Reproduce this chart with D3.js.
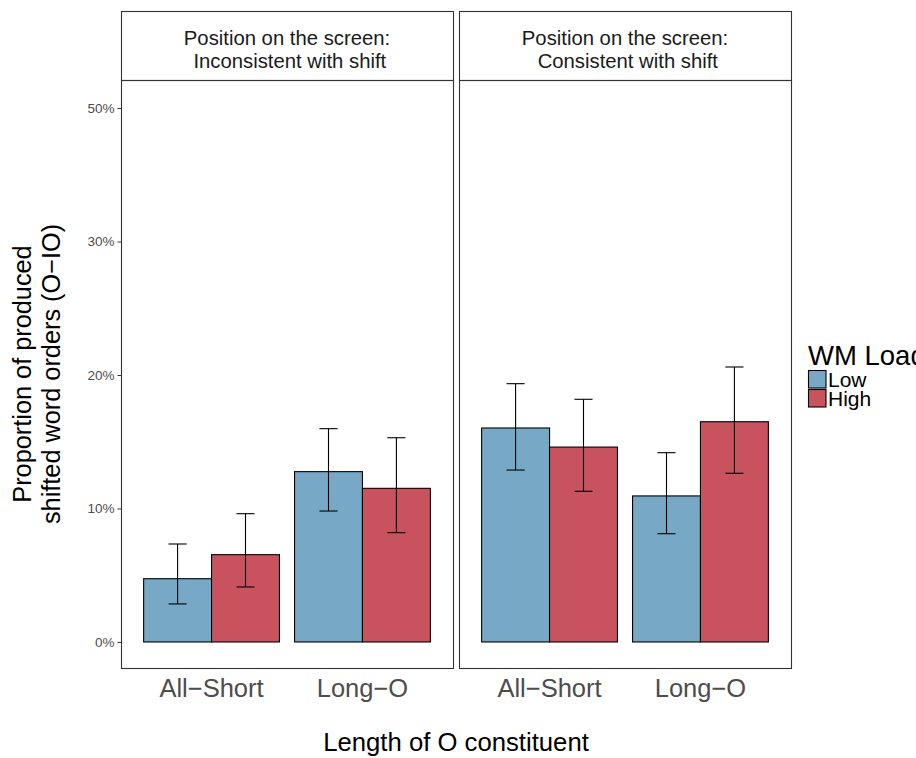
<!DOCTYPE html>
<html lang="en">
<head>
<meta charset="utf-8">
<title>Shifted word orders</title>
<script src="https://d3js.org/d3.v7.min.js"></script>
<style>
  body { margin: 0; background: #fff; }
  text { font-family: "Liberation Sans", Arial, Helvetica, sans-serif; }
</style>
</head>
<body>
<div id="chart"></div>
<script>
// data
var panels = ["Inconsistent with shift", "Consistent with shift"];
var lengths = ["All\u2212Short", "Long\u2212O"];
var loads = ["Low", "High"];
// mean proportion, per panel, per length: [Low, High]
var means = [
  [[0.0474, 0.0654], [0.1276, 0.1151]],
  [[0.1603, 0.1460], [0.1094, 0.1650]]
];
var lower = [
  [[0.0285, 0.0412], [0.0981, 0.0819]],
  [[0.1288, 0.1129], [0.0811, 0.1264]]
];
var upper = [
  [[0.0734, 0.0961], [0.1598, 0.1530]],
  [[0.1935, 0.1818], [0.1418, 0.2060]]
];
var tickVals = [0, 0.1, 0.2, 0.3, 0.4];
var tickLabels = ["0%", "10%", "20%", "30%", "50%"];
var colors = ["#77a8c6", "#c9525f"];

var W = 916, H = 758;
var panelX = [121, 459], panelW = 332;
var stripTop = 11, stripBot = 80, plotBot = 668;

var svg = d3.select("#chart").append("svg")
  .attr("width", W).attr("height", H);

var y = d3.scaleLinear().domain([-0.0195, 0.421]).range([plotBot, stripBot]);

// discrete x with ggplot-style 0.6 expansion
var x = d3.scaleLinear().domain([-0.6, 1.6]).range([0, panelW]);
var unit = x(1) - x(0);

panels.forEach(function(p, pi) {
  var g = svg.append("g").attr("transform", "translate(" + panelX[pi] + ",0)");

  // strip
  g.append("rect").attr("x", 0.5).attr("y", stripTop + 0.5)
    .attr("width", panelW).attr("height", stripBot - stripTop)
    .attr("fill", "#fff").attr("stroke", "#333").attr("stroke-width", 1.1);
  var st = g.append("text").attr("text-anchor", "middle")
    .attr("font-size", 20.3).attr("fill", "#1a1a1a");
  st.append("tspan").attr("x", panelW / 2).attr("y", 45).text("Position on the screen:");
  st.append("tspan").attr("x", panelW / 2).attr("y", 68).text("\u00a0" + p);

  // bars
  lengths.forEach(function(l, li) {
    loads.forEach(function(w, wi) {
      var x0 = x(li - 0.45 + wi * 0.45);
      var bw = 0.45 * unit;
      g.append("rect")
        .attr("x", x0).attr("y", y(means[pi][li][wi]))
        .attr("width", bw).attr("height", y(0) - y(means[pi][li][wi]))
        .attr("fill", colors[wi]).attr("stroke", "#000").attr("stroke-width", 1.1);
    });
  });

  // error bars
  lengths.forEach(function(l, li) {
    loads.forEach(function(w, wi) {
      var cx = x(li - 0.225 + wi * 0.45);
      var hw = 0.06 * unit;
      var t = y(upper[pi][li][wi]), b = y(lower[pi][li][wi]);
      var eg = g.append("g").attr("stroke", "#000").attr("stroke-width", 1.1);
      eg.append("line").attr("x1", cx).attr("x2", cx).attr("y1", t).attr("y2", b);
      eg.append("line").attr("x1", cx - hw).attr("x2", cx + hw).attr("y1", t).attr("y2", t);
      eg.append("line").attr("x1", cx - hw).attr("x2", cx + hw).attr("y1", b).attr("y2", b);
    });
  });

  // panel border
  g.append("rect").attr("x", 0.5).attr("y", stripBot + 0.5)
    .attr("width", panelW).attr("height", plotBot - stripBot)
    .attr("fill", "none").attr("stroke", "#333").attr("stroke-width", 1.1);

  // x axis labels
  g.selectAll(".xl").data(lengths).enter().append("text")
    .attr("x", function(d, i) { return x(i); })
    .attr("y", 697)
    .attr("text-anchor", "middle")
    .attr("font-size", 25.5).attr("fill", "#4d4d4d")
    .text(function(d) { return d; });
});

// y axis
var yAxis = d3.axisLeft(y).tickValues(tickVals).tickSize(4).tickPadding(3)
  .tickFormat(function(d, i) { return tickLabels[i]; });
var ya = svg.append("g").attr("transform", "translate(" + (panelX[0] + 0.5) + ",0)").call(yAxis);
ya.select(".domain").remove();
ya.selectAll(".tick line").attr("stroke", "#333");
ya.selectAll(".tick text").attr("font-size", 13.5).attr("fill", "#4d4d4d")
  .attr("font-family", "Liberation Sans, Arial, sans-serif");

// axis titles
svg.append("text").attr("x", (panelX[0] + panelX[1] + panelW) / 2).attr("y", 751)
  .attr("text-anchor", "middle").attr("font-size", 25.7).attr("fill", "#000")
  .text("Length of O constituent");

var yt = svg.append("text")
  .attr("transform", "translate(0," + (stripBot + plotBot) / 2 + ") rotate(-90)")
  .attr("text-anchor", "middle").attr("font-size", 25.3).attr("fill", "#000");
yt.append("tspan").attr("x", 0).attr("y", 31).text("Proportion of produced");
yt.append("tspan").attr("x", 0).attr("y", 60).text("shifted word orders (O\u2212IO)");

// legend
var lg = svg.append("g").attr("transform", "translate(808,0)");
lg.append("text").attr("x", 0).attr("y", 365).attr("font-size", 27.5).attr("fill", "#000")
  .text("WM Load");
loads.forEach(function(w, wi) {
  lg.append("rect").attr("x", 0.5).attr("y", 370.5 + wi * 19)
    .attr("width", 17.5).attr("height", 17.5)
    .attr("fill", colors[wi]).attr("stroke", "#000").attr("stroke-width", 1.1);
  lg.append("text").attr("x", 20).attr("y", 387 + wi * 19)
    .attr("font-size", 21).attr("fill", "#000").text(w);
});
</script>
</body>
</html>
